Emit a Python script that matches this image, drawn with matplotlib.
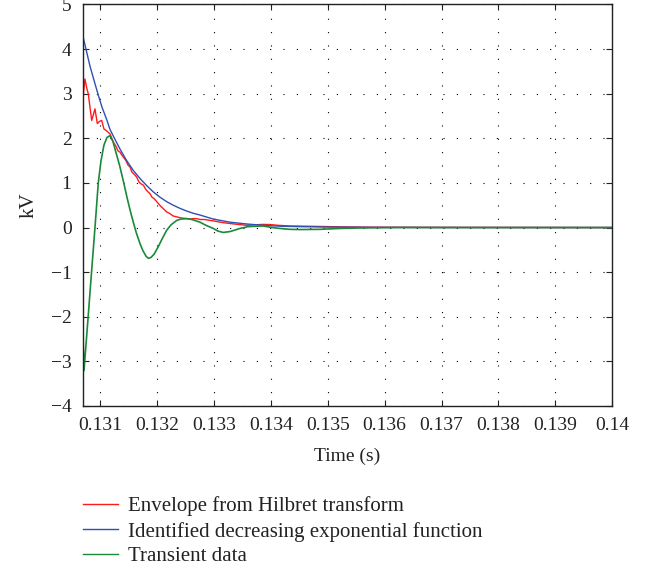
import matplotlib
matplotlib.use("Agg")
import matplotlib.pyplot as plt
from matplotlib.lines import Line2D

# ---- data ----
t_green = [0.130696, 0.130719, 0.130789, 0.130854, 0.130912, 0.130970, 0.131018, 0.131070,
           0.131123, 0.131176, 0.131228, 0.131281, 0.131343, 0.131409, 0.131474, 0.131527,
           0.131585, 0.131641, 0.131703, 0.131755, 0.131808, 0.131849, 0.131896, 0.131949,
           0.132024, 0.132089, 0.132172, 0.132247, 0.132348, 0.132423, 0.132523, 0.132616,
           0.132757, 0.132862, 0.132991, 0.133073, 0.133166, 0.133284, 0.133460, 0.133600,
           0.133753, 0.133864, 0.134022, 0.134162, 0.134338, 0.134514, 0.134865, 0.135216,
           0.135568, 0.136271, 0.137149, 0.140000]
v_green = [-2.19, -3.21, -2.05, -0.96, 0.00, 1.00, 1.50, 1.85,
           2.02, 2.06, 1.93, 1.68, 1.40, 1.05, 0.68, 0.40,
           0.12, -0.13, -0.36, -0.52, -0.64, -0.69, -0.67, -0.60,
           -0.43, -0.26, -0.06, 0.06, 0.16, 0.19, 0.20, 0.18,
           0.12, 0.05, -0.02, -0.08, -0.11, -0.09, -0.02, 0.02,
           0.03, 0.035, 0.00, -0.02, -0.04, -0.045, -0.04, -0.02,
           -0.01, 0.0, 0.0, 0.0]

t_blue = [0.130696, 0.130754, 0.130824, 0.130895, 0.130970, 0.131035, 0.131118, 0.131176,
          0.131234, 0.131351, 0.131469, 0.131585, 0.131703, 0.131820, 0.131936, 0.132054,
          0.132172, 0.132288, 0.132405, 0.132523, 0.132639, 0.132757, 0.132991, 0.133284,
          0.133577, 0.133864, 0.134162, 0.134514, 0.135041, 0.135743, 0.137149, 0.140000]
v_blue = [4.31, 4.00, 3.62, 3.30, 2.97, 2.70, 2.42, 2.20,
          2.05, 1.76, 1.50, 1.28, 1.10, 0.94, 0.80, 0.68,
          0.58, 0.50, 0.43, 0.37, 0.32, 0.28, 0.19, 0.12,
          0.08, 0.05, 0.03, 0.02, 0.01, 0.005, 0.0, 0.0]

t_red = [0.130696, 0.130736, 0.130763, 0.130794, 0.130824, 0.130854, 0.130912, 0.130953,
         0.130991, 0.131030, 0.131070, 0.131123, 0.131176, 0.131228, 0.131281, 0.131316,
         0.131351, 0.131387, 0.131422, 0.131457, 0.131492, 0.131527, 0.131562, 0.131597,
         0.131645, 0.131685, 0.131720, 0.131761, 0.131808, 0.131843, 0.131878, 0.131914,
         0.131949, 0.131984, 0.132024, 0.132072, 0.132107, 0.132172, 0.132230, 0.132283,
         0.132348, 0.132405, 0.132458, 0.132523, 0.132581, 0.132634, 0.132699, 0.132757,
         0.132845, 0.132933, 0.132991, 0.133073, 0.133161, 0.133284, 0.133424, 0.133577,
         0.133723, 0.133846, 0.133987, 0.134127, 0.134338, 0.134602, 0.135041, 0.135568,
         0.136271, 0.140000]
v_red = [2.85, 3.33, 3.15, 3.00, 2.70, 2.40, 2.66, 2.33,
         2.38, 2.40, 2.21, 2.16, 2.10, 1.93, 1.82, 1.72,
         1.69, 1.62, 1.56, 1.50, 1.40, 1.36, 1.24, 1.20,
         1.13, 1.02, 0.98, 0.95, 0.85, 0.80, 0.76, 0.68,
         0.65, 0.60, 0.54, 0.47, 0.43, 0.35, 0.31, 0.26,
         0.24, 0.22, 0.21, 0.20, 0.19, 0.20, 0.20, 0.18,
         0.18, 0.16, 0.15, 0.13, 0.11, 0.09, 0.07, 0.05,
         0.06, 0.07, 0.067, 0.05, 0.035, 0.03, 0.02, 0.01,
         0.005, 0.0]

x_ticks = [0.131, 0.132, 0.133, 0.134, 0.135, 0.136, 0.137, 0.138, 0.139, 0.14]
x_ticklabels = ["0.131", "0.132", "0.133", "0.134", "0.135", "0.136", "0.137", "0.138", "0.139", "0.14"]
y_ticks = [-4, -3, -2, -1, 0, 1, 2, 3, 4, 5]
labels = ["Envelope from Hilbret transform",
          "Identified decreasing exponential function",
          "Transient data"]

RED = "#ff1a1a"
BLUE = "#3050b0"
GREEN = "#1a8a3a"

plt.rcParams['font.family'] = ['Liberation Serif', 'DejaVu Serif']

fig = plt.figure(figsize=(6.49, 5.69), dpi=100)
ax = fig.add_axes([0.1274, 0.2865, 0.8160, 0.7056])

ax.plot(t_red, v_red, color=RED, lw=1.0)
ax.plot(t_blue, v_blue, color=BLUE, lw=1.0)
ax.plot(t_green, v_green, color=GREEN, lw=1.2)

ax.set_xlim(0.130696, 0.14)
ax.set_ylim(-4, 5)
ax.set_xticks(x_ticks)
ax.set_xticklabels(x_ticklabels)
ax.set_yticks(y_ticks)
ax.grid(True, color='black', linestyle=(0, (1, 11)), linewidth=0.8)
ax.tick_params(direction='in', top=True, right=True, length=4, width=0.8,
               labelsize=14, pad=8, colors='#222222')
for s in ax.spines.values():
    s.set_linewidth(1.0)
    s.set_color('#222222')

ax.set_xlabel("Time (s)", fontsize=14, labelpad=10, color='#222222')
ax.set_ylabel("kV", fontsize=15, labelpad=9, color='#222222')

handles = [Line2D([], [], color=RED, lw=1.0),
           Line2D([], [], color=BLUE, lw=1.0),
           Line2D([], [], color=GREEN, lw=1.0)]
leg = fig.legend(handles, labels, loc='upper left', bbox_to_anchor=(0.1284, 0.1274),
                 frameon=False, fontsize=15, handlelength=1.68, handletextpad=0.48,
                 labelspacing=0.25, borderpad=0, borderaxespad=0)
for txt in leg.get_texts():
    txt.set_color('#222222')

fig.savefig("out.png", dpi=100)
